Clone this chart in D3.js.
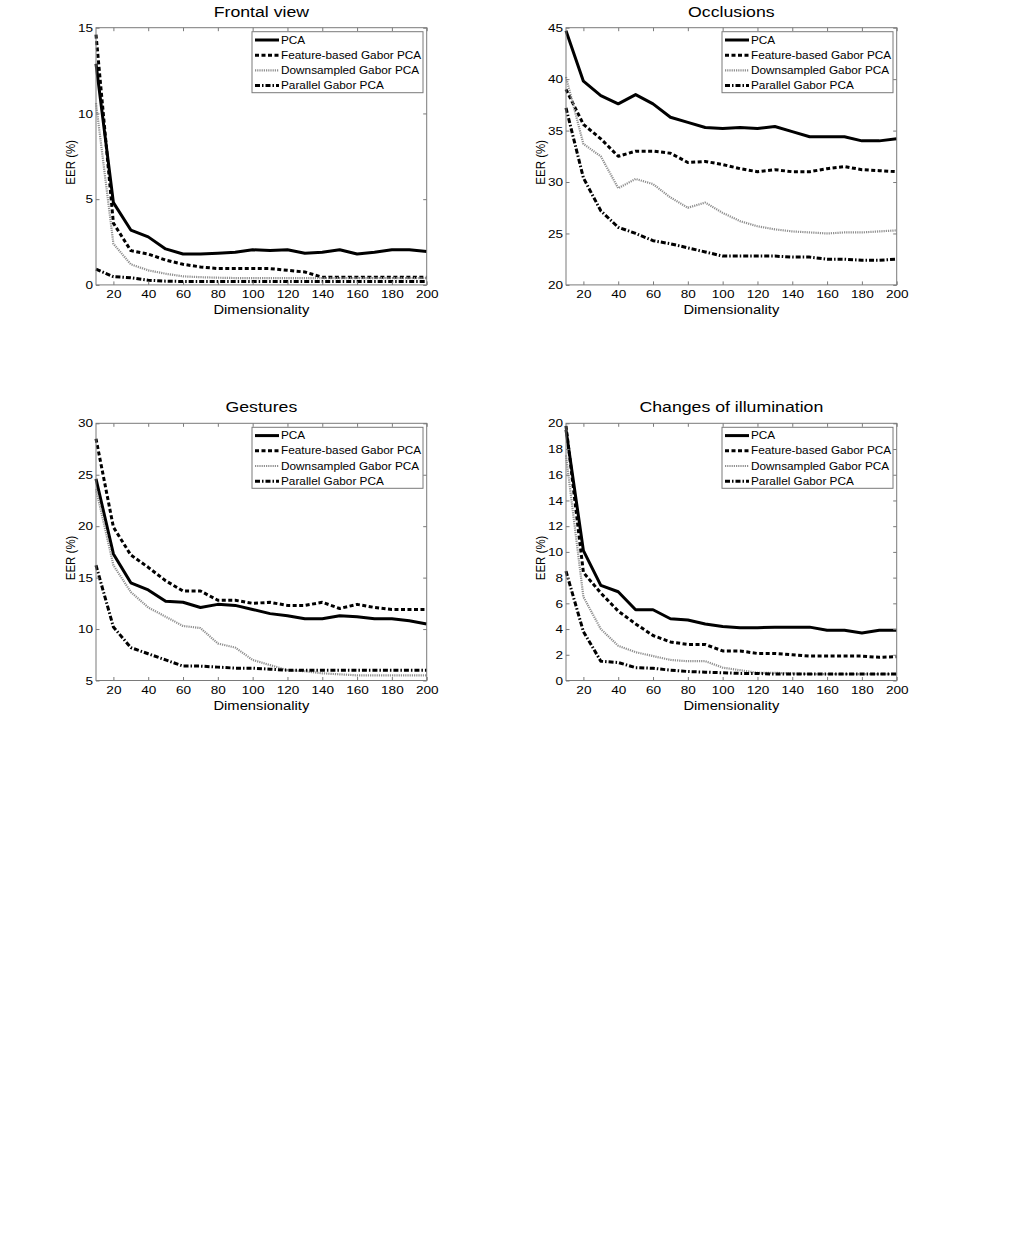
<!DOCTYPE html>
<html><head><meta charset="utf-8">
<script src="https://cdn.jsdelivr.net/npm/d3@7"></script>
<style>
body{margin:0;background:#fff}
svg text{font-family:"Liberation Sans",Arial,Helvetica,sans-serif;fill:#000}
</style>
</head><body>
<svg id="chart" width="1012" height="1254"></svg>
<script>
// ---------- data ----------
const dims = [10,20,30,40,50,60,70,80,90,100,110,120,130,140,150,160,170,180,190,200];
const xTickValues = [20,40,60,80,100,120,140,160,180,200];
const seriesNames = ["PCA","Feature-based Gabor PCA","Downsampled Gabor PCA","Parallel Gabor PCA"];
const panelTitles = ["Frontal view","Occlusions","Gestures","Changes of illumination"];
const xLabel = "Dimensionality";
const yLabel = "EER (%)";

// Frontal view
const frontalPCA      = [12.9,4.8,3.2,2.8,2.1,1.8,1.8,1.85,1.9,2.05,2.0,2.05,1.85,1.9,2.05,1.8,1.9,2.05,2.05,1.95];
const frontalFeature  = [14.6,3.6,2.0,1.8,1.45,1.2,1.05,0.95,0.95,0.95,0.95,0.85,0.75,0.45,0.45,0.45,0.45,0.45,0.45,0.45];
const frontalDown     = [10.6,2.4,1.2,0.85,0.65,0.5,0.45,0.42,0.4,0.4,0.4,0.4,0.4,0.4,0.4,0.4,0.4,0.4,0.4,0.4];
const frontalParallel = [0.92,0.48,0.42,0.27,0.22,0.2,0.2,0.2,0.2,0.2,0.2,0.2,0.2,0.2,0.2,0.2,0.2,0.2,0.2,0.2];
const frontalYTicks = [0,5,10,15];

// Occlusions
const occPCA      = [44.7,39.8,38.4,37.6,38.5,37.6,36.3,35.8,35.3,35.2,35.3,35.2,35.4,34.9,34.4,34.4,34.4,34.0,34.0,34.2];
const occFeature  = [39.0,35.6,34.2,32.5,33.0,33.0,32.8,31.9,32.0,31.7,31.3,31.0,31.2,31.0,31.0,31.3,31.5,31.2,31.1,31.0];
const occDown     = [40.2,33.7,32.5,29.4,30.3,29.8,28.5,27.5,28.0,27.0,26.2,25.7,25.4,25.2,25.1,25.0,25.1,25.1,25.2,25.3];
const occParallel = [37.2,30.4,27.2,25.6,25.0,24.3,24.0,23.6,23.2,22.8,22.8,22.8,22.8,22.7,22.7,22.5,22.5,22.4,22.4,22.5];
const occYTicks = [20,25,30,35,40,45];

// Gestures
const gesPCA      = [24.6,17.3,14.5,13.8,12.7,12.6,12.1,12.4,12.3,11.9,11.5,11.3,11.0,11.0,11.3,11.2,11.0,11.0,10.8,10.5];
const gesFeature  = [28.5,19.9,17.2,16.0,14.7,13.7,13.7,12.8,12.8,12.5,12.6,12.3,12.3,12.6,12.0,12.4,12.1,11.9,11.9,11.9];
const gesDown     = [23.6,16.2,13.6,12.1,11.2,10.3,10.1,8.6,8.2,7.0,6.5,6.0,5.9,5.7,5.6,5.5,5.5,5.5,5.5,5.5];
const gesParallel = [16.2,10.2,8.2,7.6,7.0,6.4,6.4,6.3,6.2,6.2,6.1,6.0,6.0,6.0,6.0,6.0,6.0,6.0,6.0,6.0];
const gesYTicks = [5,10,15,20,25,30];

// Changes of illumination
const illPCA      = [19.5,10.1,7.4,6.9,5.5,5.5,4.8,4.7,4.4,4.2,4.1,4.1,4.15,4.15,4.15,3.9,3.9,3.7,3.9,3.9];
const illFeature  = [19.8,8.4,6.8,5.4,4.4,3.5,3.0,2.8,2.8,2.3,2.3,2.1,2.1,2.0,1.9,1.9,1.9,1.9,1.8,1.85];
const illDown     = [17.5,6.5,4.0,2.7,2.2,1.9,1.6,1.5,1.5,1.0,0.8,0.6,0.6,0.55,0.5,0.5,0.5,0.5,0.5,0.5];
const illParallel = [8.5,3.8,1.5,1.4,1.0,0.95,0.8,0.7,0.65,0.6,0.55,0.55,0.5,0.5,0.5,0.5,0.5,0.5,0.5,0.5];
const illYTicks = [0,2,4,6,8,10,12,14,16,18,20];

// ---------- layout / styles ----------
const SX = 1.18; // horizontal stretch of the original raster
const styles = [
  {stroke:"#000", width:3,   dash:null},
  {stroke:"#000", width:3,   dash:"4,2.5"},
  {stroke:"#8f8f8f", width:2.2, dash:"1.2,1"},
  {stroke:"#000", width:3,   dash:"5,2,1.5,2"}
];
const panels = [
  {title:panelTitles[0], series:[frontalPCA,frontalFeature,frontalDown,frontalParallel], yDomain:[0,15],  yTicks:frontalYTicks, left:96,  top:27.7},
  {title:panelTitles[1], series:[occPCA,occFeature,occDown,occParallel],                 yDomain:[20,45], yTicks:occYTicks,     left:566, top:27.7},
  {title:panelTitles[2], series:[gesPCA,gesFeature,gesDown,gesParallel],                 yDomain:[5,30],  yTicks:gesYTicks,     left:96,  top:423.3},
  {title:panelTitles[3], series:[illPCA,illFeature,illDown,illParallel],                 yDomain:[0,20],  yTicks:illYTicks,     left:566, top:423.3}
];
const W = 330.7, H = 257.2;
const axisGray = "#7a7a7a";

const svg = d3.select("#chart");

panels.forEach(p => {
  const g = svg.append("g").attr("transform", `translate(${p.left},${p.top})`);
  const x = d3.scaleLinear().domain([10,200]).range([0,W]);
  const y = d3.scaleLinear().domain(p.yDomain).range([H,0]);

  // lines
  const line = d3.line().x((d,i)=>x(dims[i])).y(d=>y(d));
  p.series.forEach((s,k) => {
    const st = styles[k];
    g.append("path").datum(s)
      .attr("d", line)
      .attr("fill","none")
      .attr("stroke", st.stroke)
      .attr("stroke-width", st.width)
      .attr("stroke-dasharray", st.dash)
      .attr("stroke-linejoin","round");
  });

  // axes (inward ticks on all four sides)
  const bottom = g.append("g").attr("transform",`translate(0,${H})`)
    .call(d3.axisBottom(x).tickValues(xTickValues).tickSizeInner(-3.5).tickSizeOuter(0).tickPadding(5));
  const top = g.append("g")
    .call(d3.axisTop(x).tickValues(xTickValues).tickSizeInner(-3.5).tickSizeOuter(0).tickFormat(""));
  const left = g.append("g")
    .call(d3.axisLeft(y).tickValues(p.yTicks).tickSizeInner(-3.5).tickSizeOuter(0).tickPadding(2.5));
  const right = g.append("g").attr("transform",`translate(${W},0)`)
    .call(d3.axisRight(y).tickValues(p.yTicks).tickSizeInner(-3.5).tickSizeOuter(0).tickFormat(""));
  [bottom,top,left,right].forEach(a => {
    a.select(".domain").remove();
    a.selectAll(".tick line").attr("stroke", axisGray);
    a.selectAll("text").attr("font-size",11.5).attr("fill","#000")
      .attr("font-family","Liberation Sans, Arial, sans-serif")
      .attr("transform",`scale(${SX},1)`);
  });
  g.append("rect").attr("x",0).attr("y",0).attr("width",W).attr("height",H)
    .attr("fill","none").attr("stroke",axisGray).attr("stroke-width",1);

  // title & labels
  g.append("text").attr("transform",`translate(${W/2},-11) scale(${SX},1)`)
    .attr("text-anchor","middle").attr("font-size",15).text(p.title);
  g.append("text").attr("transform",`translate(${W/2},${H+29}) scale(${SX},1)`)
    .attr("text-anchor","middle").attr("font-size",12.5).text(xLabel);
  g.append("text").attr("transform",`translate(${-21},${H/2+6}) rotate(-90) scale(1,${SX})`)
    .attr("text-anchor","middle").attr("font-size",11.5).text(yLabel);

  // legend
  const lg = g.append("g").attr("transform",`translate(156,4)`);
  lg.append("rect").attr("x",0).attr("y",0).attr("width",171).attr("height",61)
    .attr("fill","#fff").attr("stroke",axisGray).attr("stroke-width",1);
  seriesNames.forEach((name,k) => {
    const st = styles[k];
    const yy = 8.3 + k*15.2;
    lg.append("line").attr("x1",3).attr("x2",27).attr("y1",yy).attr("y2",yy)
      .attr("stroke",st.stroke).attr("stroke-width",st.width).attr("stroke-dasharray",st.dash);
    lg.append("text").attr("transform",`translate(29,${yy+3.6}) scale(${SX},1)`)
      .attr("font-size",10).text(name);
  });
});
</script>
</body></html>
